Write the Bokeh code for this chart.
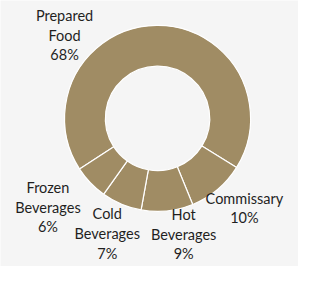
import numpy as np
from bokeh.plotting import figure
from bokeh.models import Range1d, ColumnDataSource
from bokeh.core.properties import value
from bokeh.embed import file_html
from bokeh.resources import INLINE

# ---- data ----
categories = ["Prepared Food", "Commissary", "Hot Beverages", "Cold Beverages", "Frozen Beverages"]
shares = [68, 10, 9, 7, 6]

# ---- layout (reference pixel space 314x282, y downward) ----
CENTER = (165.5, 125.0)
OUTER_R = 98.0
INNER_R = 55.0
START_DEG = 213.0  # first slice starts here, drawn clockwise
LABEL_XY = [(67.5, 37), (257, 220), (193, 248), (112.5, 247), (50, 219)]

W, H = 314, 282
BG = "#F5F5F5"
SLICE = "#A08C64"

vals = np.array(shares, dtype=float)
frac = vals / vals.sum()
cum = np.concatenate([[0], np.cumsum(frac)[:-1]])
start = np.deg2rad(START_DEG - cum * 360)
end = np.deg2rad(START_DEG - (cum + frac) * 360)

src = ColumnDataSource(dict(cat=categories, share=shares, start=start, end=end))

p = figure(width=298, height=266, output_backend="svg", toolbar_location=None,
           x_range=Range1d(0, W), y_range=Range1d(0, H), min_border=0)
p.axis.visible = False
p.grid.visible = False
p.outline_line_color = None
p.background_fill_color = BG
p.border_fill_color = BG

p.annular_wedge(x=CENTER[0], y=H - CENTER[1], inner_radius=INNER_R, outer_radius=OUTER_R,
                start_angle="start", end_angle="end", direction="clock",
                fill_color=SLICE, line_color="white", line_width=1.2, source=src)

labels = [c.replace(" ", "\n") + "\n" + f"{s}%" for c, s in zip(categories, shares)]
lx = [xy[0] for xy in LABEL_XY]
ly = [H - xy[1] for xy in LABEL_XY]
p.text(x=lx, y=ly, text=labels, text_align="center", text_baseline="middle",
       text_font=value("Lato"), text_font_size="14.5px", text_line_height=1.15,
       text_color="#1F1F1F")

open("out.html", "w").write(file_html(p, INLINE))
